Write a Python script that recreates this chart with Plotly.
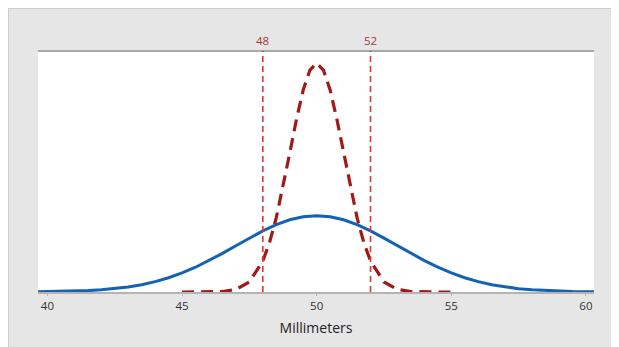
import plotly.graph_objects as go

# Blue curve (wide distribution)
blue_x = [39.5, 40, 40.5, 41, 41.5, 42, 42.5, 43, 43.5, 44, 44.5, 45, 45.5, 46, 46.5,
          47, 47.5, 48, 48.5, 49, 49.5, 50, 50.5, 51, 51.5, 52, 52.5, 53, 53.5, 54,
          54.5, 55, 55.5, 56, 56.5, 57, 57.5, 58, 58.5, 59, 59.5, 60, 60.5]
blue_y = [0.0003, 0.0005, 0.0009, 0.0015, 0.0024, 0.0038, 0.0058, 0.0087, 0.0127, 0.0180,
          0.0248, 0.0332, 0.0432, 0.0547, 0.0673, 0.0807, 0.0940, 0.1065, 0.1174, 0.1258,
          0.1312, 0.1330, 0.1312, 0.1258, 0.1174, 0.1065, 0.0940, 0.0807, 0.0673, 0.0547,
          0.0432, 0.0332, 0.0248, 0.0180, 0.0127, 0.0087, 0.0058, 0.0038, 0.0024, 0.0015,
          0.0009, 0.0005, 0.0003]

# Red dashed curve (narrow distribution)
red_x = [45, 45.5, 46, 46.5, 47, 47.5, 48, 48.25, 48.5, 48.75, 49, 49.25, 49.5, 49.75, 50,
         50.25, 50.5, 50.75, 51, 51.25, 51.5, 51.75, 52, 52.5, 53, 53.5, 54, 54.5, 55]
red_y = [0.0000, 0.0000, 0.0001, 0.0009, 0.0044, 0.0175, 0.0540, 0.0863, 0.1295, 0.1826,
         0.2420, 0.3011, 0.3521, 0.3867, 0.3989, 0.3867, 0.3521, 0.3011, 0.2420, 0.1826,
         0.1295, 0.0863, 0.0540, 0.0175, 0.0044, 0.0009, 0.0001, 0.0000, 0.0000]

# Specification limits
limits = [48, 52]
limit_labels = ["48", "52"]

tick_vals = [40, 45, 50, 55, 60]
tick_text = ["40", "45", "50", "55", "60"]

# page has an 8px body margin, which gives the white strip at left/top
W, H = 611, 339
L, R, T, B = 30, 25, 43, 55

fig = go.Figure()
fig.add_trace(go.Scatter(x=blue_x, y=blue_y, mode="lines",
                         line=dict(color="#1462b4", width=3), hoverinfo="skip"))
fig.add_trace(go.Scatter(x=red_x, y=red_y, mode="lines",
                         line=dict(color="#a01a1a", width=3.2, dash="12px,7px"), hoverinfo="skip"))

shapes = [
    dict(type="line", xref="paper", yref="paper", x0=-L / (W - L - R), x1=-L / (W - L - R),
         y0=-1, y1=2, line=dict(color="#cdcdcd", width=2), layer="below"),
    dict(type="line", xref="paper", yref="paper", x0=-1, x1=2,
         y0=1 + T / (H - T - B), y1=1 + T / (H - T - B),
         line=dict(color="#cdcdcd", width=2), layer="below"),
    dict(type="line", xref="paper", yref="paper", x0=0, x1=1, y0=1, y1=1,
         line=dict(color="#a8a8a8", width=2)),
]
annotations = []
for v, lab in zip(limits, limit_labels):
    shapes.append(dict(type="line", xref="x", yref="paper", x0=v, x1=v, y0=0, y1=1,
                       line=dict(color="#e03535", width=1.6, dash="6px,4px")))
    annotations.append(dict(x=v, y=1, xref="x", yref="paper", text=lab, showarrow=False,
                            yanchor="bottom", yshift=1,
                            font=dict(family="Open Sans, sans-serif", size=11.5, color="#a23a3a")))

fig.update_layout(
    width=W, height=H,
    margin=dict(l=L, r=R, t=T, b=B),
    paper_bgcolor="#e6e6e6",
    plot_bgcolor="white",
    showlegend=False,
    shapes=shapes,
    annotations=annotations,
    xaxis=dict(range=[39.65, 60.3], tickvals=tick_vals, ticktext=tick_text,
               showgrid=False, zeroline=False, showline=True, linecolor="#b4b4b4", linewidth=2,
               ticks="outside", ticklen=2, tickcolor="#b4b4b4",
               tickfont=dict(family="Open Sans, sans-serif", size=11.5, color="#333333"),
               title=dict(text="Millimeters", standoff=11,
                          font=dict(family="Open Sans, sans-serif", size=14, color="#222222"))),
    yaxis=dict(range=[0, 0.42], visible=False, showgrid=False, zeroline=False),
)

fig.write_html("out.html")
